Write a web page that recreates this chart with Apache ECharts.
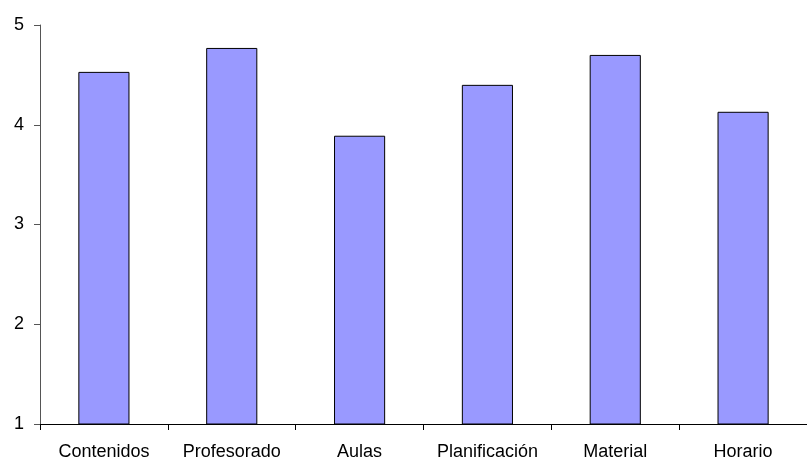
<!DOCTYPE html>
<html>
<head>
<meta charset="utf-8">
<script src="https://cdn.jsdelivr.net/npm/echarts@6/dist/echarts.min.js"></script>
<style>html,body{margin:0;padding:0;background:#fff}#c{width:807px;height:462px}</style>
</head>
<body>
<div id="c"></div>
<script>
const categories = ["Contenidos", "Profesorado", "Aulas", "Planificación", "Material", "Horario"];
const values = [4.53, 4.77, 3.89, 4.40, 4.70, 4.13];
const yTicks = [1, 2, 3, 4, 5];

const chart = echarts.init(document.getElementById('c'), null, {renderer: 'canvas'});
chart.setOption({
  animation: false,
  grid: {left: 40, right: -7, top: 25, bottom: 38, containLabel: false},
  xAxis: {
    type: 'category',
    data: categories,
    axisLine: {lineStyle: {color: '#000', width: 1}},
    axisTick: {show: true, length: 6, alignWithLabel: false, lineStyle: {color: '#000'}},
    axisLabel: {color: '#000', fontFamily: 'Liberation Sans, Arial, sans-serif', fontSize: 18, margin: 19, interval: 0},
    splitLine: {show: false}
  },
  yAxis: {
    type: 'value',
    min: yTicks[0],
    max: yTicks[yTicks.length - 1],
    interval: 1,
    axisLine: {show: true, lineStyle: {color: '#555', width: 1}},
    axisTick: {show: true, length: 6, lineStyle: {color: '#555'}},
    axisLabel: {color: '#000', fontFamily: 'Liberation Sans, Arial, sans-serif', fontSize: 18, margin: 16},
    splitLine: {show: false}
  },
  series: [{
    type: 'bar',
    data: values,
    barWidth: '40%',
    itemStyle: {color: '#9999FF', borderColor: '#000', borderWidth: 1}
  }]
});
</script>
</body>
</html>
